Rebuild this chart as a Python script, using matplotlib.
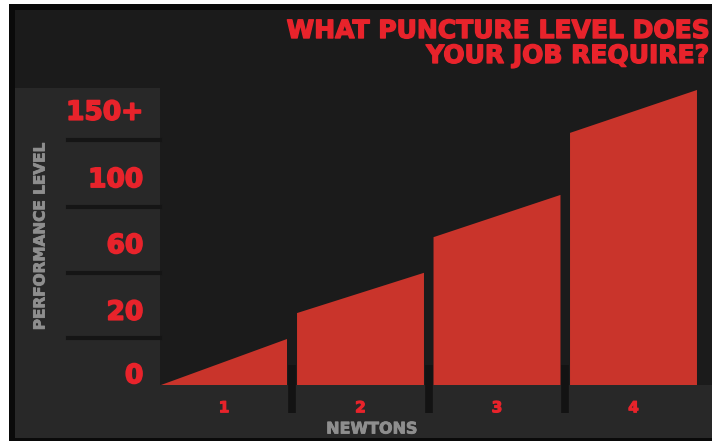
import matplotlib
matplotlib.use('Agg')
import matplotlib.pyplot as plt
import matplotlib.patheffects as pe
from matplotlib.patches import Rectangle
from matplotlib.transforms import blended_transform_factory

W, H = 712, 441

# data
newtons = [1, 2, 3, 4]
bar_start = [0.0, 1.09, 2.24, 3.82]   # top of left edge of each bar
bar_end = [0.70, 1.70, 2.88, 4.47]    # top of right edge
level_pos = [0.18, 1.14, 2.15, 3.15, 4.17]
level_labels = ['0', '20', '60', '100', '150+']
level_seps = [0.71, 1.70, 2.70, 3.71]
bar_w = 0.93

red_bar = '#c9342b'
red_txt = '#e8232b'
grey_txt = '#8e8e8e'
bg_dark = '#1b1b1b'
bg_light = '#282828'
black = '#0a0a0a'


def fx(x):
    return x / W


def fy(y):
    return 1 - y / H


def rect(fig, x0, y0, x1, y1, color, z=-5):
    fig.patches.append(Rectangle((fx(x0), fy(y1)), fx(x1) - fx(x0), fy(y0) - fy(y1),
                                 transform=fig.transFigure, facecolor=color,
                                 edgecolor='none', zorder=z))


def thick(col, w=1.0):
    return [pe.withStroke(linewidth=w, foreground=col)]


fig = plt.figure(figsize=(W / 100, H / 100), dpi=100, facecolor='white')

# frame + panels
rect(fig, 9, 4, W, H, black)
rect(fig, 15, 10, W, 438, bg_dark)
rect(fig, 15, 88, 160, 438, bg_light)
rect(fig, 15, 385, W, 438, bg_light)

ax = fig.add_axes([fx(160), fy(385), fx(712) - fx(160), fy(10) - fy(385)])
ax.set_zorder(5)
ax.patch.set_alpha(0)
ax.set_xlim(1 - 64 / 136.5, 1 + (712 - 224) / 136.5)
ax.set_ylim(0, 375 / 66)
for s in ax.spines.values():
    s.set_visible(False)

for n, a, b in zip(newtons, bar_start, bar_end):
    x0, x1 = n - bar_w / 2, n + bar_w / 2
    ax.fill([x0, x1, x1, x0], [0, 0, b, a], color=red_bar, lw=0, zorder=3)

# dark dividers running into the label strip
ax.vlines([n + 0.5 for n in newtons[:-1]], -0.42, 0.3, colors='#131313', lw=5.5,
          clip_on=False, zorder=2)

# level boxes
tr = blended_transform_factory(fig.transFigure, ax.transData)
for s in level_seps:
    ax.add_line(plt.Line2D([fx(68), fx(160)], [s, s], transform=tr, color='#151515',
                           lw=3, clip_on=False, zorder=1))

ax.set_yticks(level_pos)
ax.set_yticklabels(level_labels, color=red_txt, fontsize=19, fontweight='heavy')
for t in ax.get_yticklabels():
    t.set_path_effects(thick(red_txt, 1.2))
ax.tick_params(axis='y', length=0, pad=12)
ax.set_xticks(newtons)
ax.set_xticklabels([str(n) for n in newtons], color=red_txt, fontsize=11, fontweight='heavy')
for t in ax.get_xticklabels():
    t.set_path_effects(thick(red_txt, 0.8))
ax.tick_params(axis='x', length=0, pad=11)
ax.set_xlabel('NEWTONS', color=grey_txt, fontsize=11.5, fontweight='heavy')
ax.xaxis.set_label_coords((372 - 160) / (712 - 160), -(429 - 385) / 375)
ax.xaxis.label.set_va('center')
ax.xaxis.label.set_path_effects(thick(grey_txt, 0.6))

fig.text(fx(40), fy(237), 'PERFORMANCE LEVEL', rotation=90, ha='center', va='center',
         color=grey_txt, fontsize=11, fontweight='heavy', path_effects=thick(grey_txt, 0.6))

fig.text(fx(709), fy(19), 'WHAT PUNCTURE LEVEL DOES\nYOUR JOB REQUIRE?', ha='right', va='top',
         color=red_txt, fontsize=18, fontweight='heavy', linespacing=1.05,
         path_effects=thick(red_txt, 1.0))

fig.savefig('out.png', dpi=100, facecolor='white')
